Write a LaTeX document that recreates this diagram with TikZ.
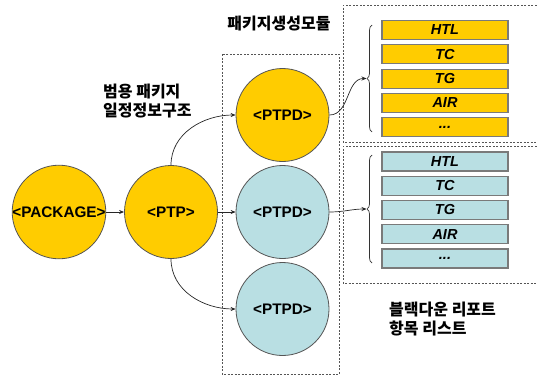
\documentclass[tikz,border=0pt]{standalone}
\usepackage{fontspec}
\setmainfont{Liberation Sans}
\newfontfamily\kr{Noto Sans CJK KR}
\usetikzlibrary{arrows.meta,decorations.pathreplacing}
\definecolor{ylw}{HTML}{FFCC00}
\definecolor{lblue}{HTML}{B9DFE3}
\definecolor{edge}{HTML}{555555}
\definecolor{rectedge}{HTML}{7A7A7A}
\tikzset{
  bubble/.style={circle,draw=edge,line width=0.8pt,minimum size=93pt,inner sep=0pt,font=\bfseries\fontsize{15.3}{17}\selectfont},
  ybub/.style={bubble,fill=ylw},
  bbub/.style={bubble,fill=lblue},
  item/.style={rectangle,draw=rectedge,line width=1.1pt,minimum width=126pt,minimum height=19pt,inner sep=0pt,font=\bfseries\itshape\fontsize{14.5}{16}\selectfont},
  yitem/.style={item,fill=ylw},
  bitem/.style={item,fill=lblue},
  conn/.style={-{Stealth[length=5pt,width=4pt]},line width=0.7pt,draw=black!85},
  dbox/.style={draw=edge,dash pattern=on 2pt off 1.5pt,line width=0.6pt},
  krlabel/.style={font=\kr\bfseries\fontsize{16}{18.5}\selectfont,inner sep=0pt},
  bracedeco/.style={decorate,decoration={brace,amplitude=5pt},line width=0.7pt,draw=black!80}
}
\begin{document}
\begin{tikzpicture}[x=1pt,y=1pt]
\useasboundingbox (0,0) rectangle (537,376);
% dashed frames
\draw[dbox] (222,322) rectangle (339,2);
\draw[dbox] (540,371) -- (343,371) -- (343,234) -- (540,234);
\draw[dbox] (540,230) -- (343,230) -- (343,93) -- (540,93);
% circles
\node[ybub] (pkg) at (59,164) {<PACKAGE>};
\node[ybub] (ptp) at (171,164) {<PTP>};
\node[ybub] (pd1) at (282.5,261) {<PTPD>};
\node[bbub] (pd2) at (282.5,164) {<PTPD>};
\node[bbub] (pd3) at (282.5,67) {<PTPD>};
% labels
\node[krlabel] (title) at (279,352) {패키지생성모듈};
\node[krlabel,anchor=west,align=left] (lbl1) at (103,275) {범용 패키지\\일정정보구조};
\node[krlabel,anchor=west,align=left] (lbl2) at (389,57) {블랙다운 리포트\\항목 리스트};
% upper items
\node[yitem] (u1) at (445,346) {HTL};
\node[yitem] (u2) at (445,321.7) {TC};
\node[yitem] (u3) at (445,297.4) {TG};
\node[yitem] (u4) at (445,273.1) {AIR};
\node[yitem] (u5) at (445,248.8) {...};
% lower items
\node[bitem] (l1) at (445,214.5) {HTL};
\node[bitem] (l2) at (445,190.2) {TC};
\node[bitem] (l3) at (445,166) {TG};
\node[bitem] (l4) at (445,141.8) {AIR};
\node[bitem] (l5) at (445,117.5) {...};
% braces
\coordinate (ub1) at (372,244);
\coordinate (ub2) at (372,351);
\coordinate (lb1) at (372,113);
\coordinate (lb2) at (372,221);
\coordinate (utip) at (366.5,297.5);
\coordinate (ltip) at (366.5,167);
\draw[bracedeco] (ub1) -- (ub2);
\draw[bracedeco] (lb1) -- (lb2);
% connectors
\draw[conn] (pkg.east) -- (ptp.west);
\draw[conn] (ptp.east) -- (pd2.west);
\draw[conn] (ptp.north) to[out=90,in=180] (pd1.west);
\draw[conn] (ptp.south) to[out=-90,in=180] (pd3.west);
\draw[conn] (pd1.east) to[out=0,in=180] (utip);
\draw[conn] (pd2.east) to[out=0,in=180] (ltip);
\end{tikzpicture}
\end{document}
